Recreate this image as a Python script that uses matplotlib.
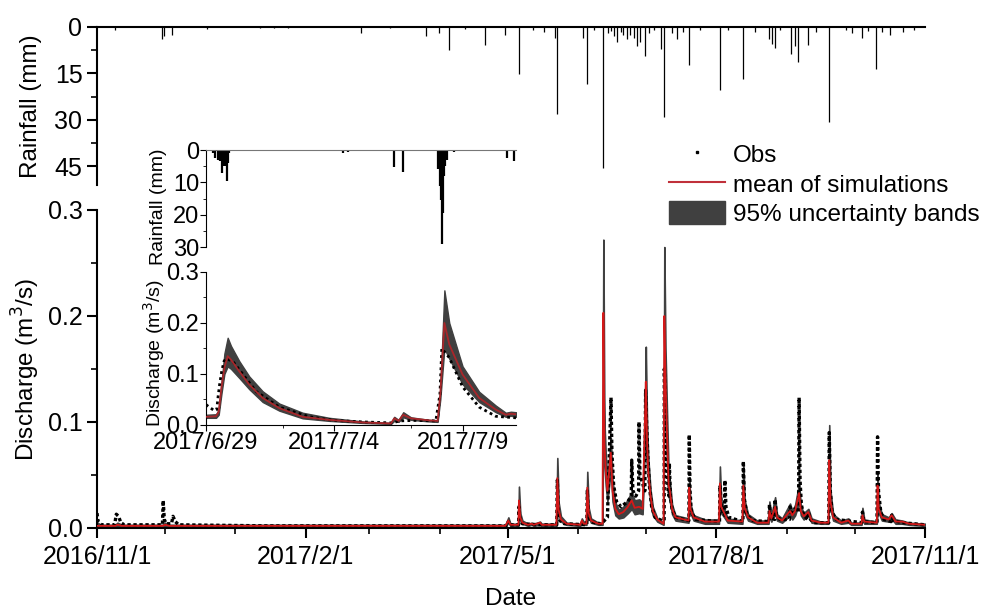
import matplotlib
matplotlib.use('Agg')
import matplotlib.pyplot as plt
import matplotlib.dates as mdates
import pandas as pd
from matplotlib.lines import Line2D
from matplotlib.patches import Patch
from matplotlib.ticker import MultipleLocator, FuncFormatter, FixedLocator, NullLocator

plt.rcParams['font.family'] = ['Liberation Sans', 'DejaVu Sans']

# ---------------- main period: rainfall (mm) ----------------
rainTime = ['2016-11-08 19:00', '2016-11-29 12:00', '2016-11-30 14:00', '2016-12-04 05:00', '2016-12-19 10:00',
            '2017-01-12', '2017-01-18', '2017-01-24', '2017-02-25 05:00', '2017-03-10', '2017-03-26 05:00',
            '2017-03-31 17:00', '2017-04-05 05:00', '2017-04-12', '2017-04-20 22:00', '2017-04-29 17:00',
            '2017-05-05 20:00', '2017-05-12', '2017-05-17', '2017-05-21 22:00', '2017-05-22 18:00',
            '2017-06-03 07:00', '2017-06-05 00:00', '2017-06-08', '2017-06-12 00:00', '2017-06-14 07:00',
            '2017-06-15 12:00', '2017-06-17 02:00', '2017-06-18 06:00', '2017-06-19 22:00', '2017-06-21 02:00',
            '2017-06-22 14:00', '2017-06-24 00:00', '2017-06-25 22:00', '2017-06-27 00:00', '2017-06-28 05:00',
            '2017-06-30 10:00', '2017-07-02 07:00', '2017-07-04 12:00', '2017-07-07 19:00', '2017-07-08 22:00',
            '2017-07-12 06:00', '2017-07-14 17:00', '2017-07-17 12:00', '2017-07-19 22:00', '2017-07-25',
            '2017-08-02 10:00', '2017-08-06', '2017-08-12 19:00', '2017-08-18', '2017-08-24 06:00',
            '2017-08-25 12:00', '2017-08-26 18:00', '2017-08-29', '2017-09-03 00:00', '2017-09-04 16:00',
            '2017-09-06 02:00', '2017-09-10 05:00', '2017-09-14', '2017-09-19 14:00', '2017-09-27 07:00',
            '2017-09-30', '2017-10-04 05:00', '2017-10-07', '2017-10-10 14:00', '2017-10-13',
            '2017-10-16 17:00', '2017-10-22 05:00', '2017-10-27']
rainMm   = [1.0, 4.0, 3.0, 2.6, 0.5,
            0.3, 0.4, 0.3, 2.0, 0.4, 3.0,
            2.0, 7.5, 0.5, 5.7, 2.6,
            15.2, 1.0, 1.5, 3.5, 28.0,
            3.6, 18.3, 1.0, 45.5, 2.0,
            1.2, 3.0, 5.0, 1.5, 2.5,
            4.0, 2.5, 3.5, 6.0, 4.7,
            9.3, 2.0, 1.0, 7.2, 29.0,
            2.0, 4.0, 1.5, 12.4, 1.0,
            20.4, 1.0, 16.8, 1.5, 4.0,
            5.5, 6.7, 1.0, 8.8, 6.2,
            11.2, 5.7, 1.5, 30.8, 1.0,
            2.0, 3.4, 1.2, 13.4, 1.5,
            2.5, 1.5, 1.0]

# ---------------- main period: simulations (m3/s) ----------------
simTime = ['2016-11-01 00:00', '2016-11-03', '2016-11-09', '2016-11-10', '2016-11-12', '2016-11-30', '2016-12-01',
           '2016-12-03', '2017-04-30', '2017-05-01 08:00', '2017-05-02 06:00', '2017-05-05 18:00',
           '2017-05-06 00:00', '2017-05-06 14:00', '2017-05-07 12:00', '2017-05-10', '2017-05-11 14:00',
           '2017-05-12 12:00', '2017-05-15 07:00', '2017-05-16', '2017-05-22 12:00', '2017-05-22 22:00',
           '2017-05-23 12:00', '2017-05-24 12:00', '2017-05-27', '2017-06-02', '2017-06-02 17:00',
           '2017-06-03 12:00', '2017-06-04 18:00', '2017-06-05 03:00', '2017-06-05 18:00', '2017-06-06 18:00',
           '2017-06-10', '2017-06-11 20:00', '2017-06-12 05:00', '2017-06-12 16:00', '2017-06-13 06:00',
           '2017-06-14 00:00', '2017-06-15 12:00', '2017-06-16 06:00', '2017-06-17 12:00', '2017-06-19',
           '2017-06-21', '2017-06-23', '2017-06-24 17:00', '2017-06-26', '2017-06-28', '2017-06-29 12:00',
           '2017-06-30 16:00', '2017-06-30 22:00', '2017-07-01 12:00', '2017-07-02', '2017-07-03',
           '2017-07-04', '2017-07-06', '2017-07-08 18:00', '2017-07-09 02:00', '2017-07-09 14:00',
           '2017-07-10 06:00', '2017-07-11 00:00', '2017-07-11 12:00', '2017-07-12 12:00', '2017-07-14',
           '2017-07-19 18:00', '2017-07-20 02:00', '2017-07-20 14:00', '2017-07-22', '2017-07-27',
           '2017-08-02 04:00', '2017-08-02 14:00', '2017-08-03 04:00', '2017-08-04 12:00', '2017-08-06',
           '2017-08-12 12:00', '2017-08-12 22:00', '2017-08-13 12:00', '2017-08-15', '2017-08-19',
           '2017-08-24 00:00', '2017-08-24 10:00', '2017-08-25 06:00', '2017-08-26 22:00', '2017-08-27 18:00',
           '2017-08-30', '2017-09-02 12:00', '2017-09-03 12:00', '2017-09-04 18:00', '2017-09-06 12:00',
           '2017-09-07 06:00', '2017-09-08 12:00', '2017-09-10 14:00', '2017-09-12', '2017-09-16',
           '2017-09-19 10:00', '2017-09-19 19:00', '2017-09-20 08:00', '2017-09-21 12:00', '2017-09-25',
           '2017-09-28 05:00', '2017-09-29 12:00', '2017-10-04 00:00', '2017-10-04 10:00', '2017-10-05 06:00',
           '2017-10-10 18:00', '2017-10-11 02:00', '2017-10-11 14:00', '2017-10-13', '2017-10-16',
           '2017-10-17 07:00', '2017-10-19', '2017-10-22', '2017-10-25', '2017-11-01']
simLow  = [.001, .001, .001, .002, .001, .001, .002,
           .001, .001, .005, .002, .002,
           .018, .007, .004, .002, .003,
           .002, .003, .002, .002, .033,
           .012, .006, .003, .002, .005,
           .003, .003, .028, .010, .005,
           .003, .003, .150, .060, .040,
           .025, .055, .025, .012, .009,
           .010, .014, .018, .013, .014, .013,
           .090, .115, .070, .045, .022,
           .012, .006, .003, .150, .110,
           .060, .030, .025, .013, .007,
           .005, .030, .014, .007, .004,
           .004, .030, .014, .010, .005,
           .004, .030, .014, .007, .004,
           .004, .012, .006, .014, .007,
           .005, .012, .008, .012, .024,
           .012, .008, .012, .005, .004,
           .004, .045, .018, .007, .004,
           .005, .003, .003, .009, .004,
           .004, .030, .014, .007, .006,
           .009, .004, .004, .003, .002]
simMean = [.002, .002, .002, .003, .002, .002, .003,
           .002, .002, .007, .003, .003,
           .026, .010, .005, .003, .004,
           .003, .005, .003, .003, .047,
           .017, .008, .004, .003, .007,
           .004, .004, .038, .014, .007,
           .004, .004, .203, .080, .055,
           .035, .071, .035, .018, .013,
           .015, .020, .026, .019, .020, .018,
           .112, .138, .080, .053, .030,
           .016, .008, .004, .200, .140,
           .090, .040, .035, .018, .010,
           .007, .038, .018, .010, .006,
           .006, .042, .020, .014, .007,
           .006, .040, .019, .010, .005,
           .005, .016, .009, .020, .010,
           .007, .016, .012, .016, .033,
           .016, .011, .015, .007, .005,
           .005, .064, .025, .010, .005,
           .007, .004, .004, .012, .006,
           .005, .040, .018, .010, .008,
           .012, .006, .006, .004, .003]
simHigh = [.005, .003, .003, .005, .003, .003, .005,
           .003, .003, .010, .004, .004,
           .039, .014, .007, .004, .005,
           .004, .006, .004, .004, .066,
           .024, .011, .005, .004, .009,
           .006, .006, .053, .019, .009,
           .005, .005, .272, .100, .070,
           .045, .085, .045, .024, .017,
           .020, .027, .034, .026, .027, .024,
           .130, .171, .095, .066, .036,
           .020, .009, .005, .265, .170,
           .110, .050, .045, .022, .012,
           .009, .048, .023, .012, .008,
           .008, .058, .026, .018, .009,
           .007, .062, .026, .013, .007,
           .007, .025, .012, .029, .013,
           .009, .023, .016, .022, .042,
           .021, .014, .018, .009, .006,
           .006, .097, .035, .013, .007,
           .009, .005, .005, .019, .008,
           .006, .050, .024, .013, .010,
           .014, .008, .007, .005, .004]

# ---------------- main period: observations (m3/s) ----------------
obsTime = ['2016-11-01 00:00', '2016-11-01 12:00', '2016-11-03', '2016-11-08 18:00', '2016-11-09 12:00',
           '2016-11-10 12:00', '2016-11-11 12:00', '2016-11-13', '2016-11-29 20:00', '2016-11-30 04:00',
           '2016-11-30 16:00', '2016-12-01 12:00', '2016-12-03 20:00', '2016-12-04 12:00', '2016-12-05 12:00',
           '2016-12-07', '2017-01-15', '2017-04-30', '2017-05-01 04:00', '2017-05-01 08:00',
           '2017-05-02', '2017-05-05 20:00', '2017-05-06 00:00', '2017-05-06 12:00', '2017-05-07 12:00',
           '2017-05-15', '2017-05-22 16:00', '2017-05-22 22:00', '2017-05-23 08:00', '2017-05-24',
           '2017-05-26', '2017-06-04 22:00', '2017-06-05 03:00', '2017-06-05 14:00', '2017-06-06 12:00',
           '2017-06-11', '2017-06-12 05:00', '2017-06-14 00:00', '2017-06-15 14:00', '2017-06-16 00:00',
           '2017-06-16 18:00', '2017-06-18', '2017-06-20', '2017-06-23', '2017-06-24 12:00',
           '2017-06-24 17:00', '2017-06-25 06:00', '2017-06-26 12:00', '2017-06-27 18:00', '2017-06-27 22:00',
           '2017-06-28 08:00', '2017-06-30 12:00', '2017-06-30 20:00', '2017-07-01 06:00', '2017-07-01 18:00',
           '2017-07-02 12:00', '2017-07-03 12:00', '2017-07-05', '2017-07-08', '2017-07-09 00:00',
           '2017-07-09 02:00', '2017-07-09 12:00', '2017-07-10', '2017-07-10 18:00', '2017-07-11 04:00',
           '2017-07-11 07:00', '2017-07-11 18:00', '2017-07-12 12:00', '2017-07-14', '2017-07-19 22:00',
           '2017-07-20 02:00', '2017-07-20 10:00', '2017-07-21', '2017-07-23', '2017-08-02 10:00',
           '2017-08-02 14:00', '2017-08-03 06:00', '2017-08-04 14:00', '2017-08-04 19:00', '2017-08-05 06:00',
           '2017-08-06 12:00', '2017-08-12 18:00', '2017-08-12 22:00', '2017-08-13 08:00', '2017-08-14 12:00',
           '2017-08-17', '2017-08-24 06:00', '2017-08-24 10:00', '2017-08-25', '2017-08-26 18:00',
           '2017-08-26 22:00', '2017-08-27 12:00', '2017-08-29', '2017-09-02 06:00', '2017-09-02 12:00',
           '2017-09-03 12:00', '2017-09-04 12:00', '2017-09-06 06:00', '2017-09-06 12:00', '2017-09-06 22:00',
           '2017-09-07 12:00', '2017-09-08 12:00', '2017-09-10 08:00', '2017-09-10 14:00', '2017-09-11 12:00',
           '2017-09-13', '2017-09-19 14:00', '2017-09-19 19:00', '2017-09-20 06:00', '2017-09-21',
           '2017-09-23', '2017-10-04 04:00', '2017-10-04 10:00', '2017-10-05', '2017-10-10 20:00',
           '2017-10-11 02:00', '2017-10-11 12:00', '2017-10-12 12:00', '2017-10-14', '2017-10-17 02:00',
           '2017-10-17 07:00', '2017-10-18', '2017-10-22', '2017-11-01']
obsQ    = [.014, .006, .003, .003, .013,
           .011, .005, .003, .003, .026,
           .008, .004, .004, .011, .006,
           .003, .002, .002, .002, .006,
           .003, .003, .020, .008, .004,
           .003, .003, .045, .015, .007,
           .004, .003, .035, .012, .006,
           .004, .006, .010, .123, .070,
           .040, .025, .020, .025, .030,
           .064, .035, .030, .035, .100,
           .050, .035, .130, .100, .070,
           .040, .020, .010, .007, .007,
           .150, .120, .070, .035, .030,
           .061, .030, .018, .010, .007,
           .088, .035, .015, .008, .006,
           .040, .018, .012, .045, .020,
           .010, .006, .063, .028, .012,
           .007, .006, .022, .010, .008,
           .027, .012, .008, .008, .020,
           .014, .018, .015, .123, .045,
           .022, .012, .008, .015, .008,
           .005, .005, .090, .035, .015,
           .008, .005, .015, .006, .005,
           .086, .035, .015, .008, .006,
           .012, .007, .005, .003]

# ---------------- inset: 2017/6/29 - 2017/7/11 ----------------
insetRainTime = ['2017-06-29 06:15', '2017-06-29 08:45', '2017-06-29 10:55', '2017-06-29 13:05', '2017-06-29 15:00',
                 '2017-06-29 16:30', '2017-06-29 18:05', '2017-06-29 19:20', '2017-06-29 20:35', '2017-06-29 21:50',
                 '2017-07-04 07:50', '2017-07-04 12:30', '2017-07-06 07:30', '2017-07-06 16:30', '2017-07-07 11:30',
                 '2017-07-08 01:30', '2017-07-08 02:50', '2017-07-08 03:50', '2017-07-08 04:35', '2017-07-08 05:30',
                 '2017-07-08 06:30', '2017-07-08 07:40', '2017-07-08 09:00', '2017-07-08 16:20', '2017-07-09 00:00',
                 '2017-07-10 18:00', '2017-07-11 00:15']
insetRainMm   = [1.0, 2.4, 3.0, 3.5, 7.0,
                 5.0, 5.0, 9.7, 4.0, 1.0,
                 1.0, 0.6, 5.2, 6.9, 0.4,
                 6.0, 11.0, 15.4, 29.0, 19.6,
                 8.0, 5.0, 3.0, 0.5, 0.3,
                 2.4, 3.4]

insetSimTime = ['2017-06-29 00:00', '2017-06-29 09:20', '2017-06-29 11:50', '2017-06-29 14:20', '2017-06-29 17:10',
                '2017-06-29 20:15', '2017-06-29 23:20', '2017-06-30 07:10', '2017-06-30 16:30', '2017-07-01 05:00',
                '2017-07-01 20:35', '2017-07-02 18:25', '2017-07-03 19:20', '2017-07-05 02:30', '2017-07-06 05:00',
                '2017-07-06 08:05', '2017-07-06 12:10', '2017-07-06 16:30', '2017-07-06 23:45', '2017-07-07 16:50',
                '2017-07-08 00:40', '2017-07-08 03:10', '2017-07-08 07:00', '2017-07-08 11:35', '2017-07-09 00:00',
                '2017-07-09 15:35', '2017-07-10 07:10', '2017-07-10 16:30', '2017-07-10 21:10', '2017-07-11 02:00']
insetSimLow  = [.014, .014, .020, .060, .100, .115, .110, .092, .070, .045,
                .028, .013, .008, .004, .002, .008, .006, .015, .010, .007,
                .006, .050, .150, .130, .080, .045, .025, .016, .018, .016]
insetSimMean = [.016, .017, .026, .072, .112, .135, .128, .105, .079, .053,
                .033, .016, .010, .005, .003, .013, .008, .020, .013, .009,
                .008, .060, .200, .158, .099, .053, .030, .020, .022, .021]
insetSimHigh = [.020, .021, .030, .080, .140, .171, .155, .125, .095, .066,
                .042, .024, .014, .007, .004, .016, .010, .025, .015, .010,
                .009, .070, .264, .200, .115, .065, .038, .024, .026, .025]

insetObsTime = ['2017-06-29 00:00', '2017-06-29 03:00', '2017-06-29 07:50', '2017-06-29 10:00', '2017-06-29 11:15',
                '2017-06-29 12:45', '2017-06-29 14:40', '2017-06-29 16:50', '2017-06-29 18:40', '2017-06-30 01:00',
                '2017-06-30 10:15', '2017-06-30 22:45', '2017-07-01 20:35', '2017-07-03 00:40', '2017-07-04 00:00',
                '2017-07-05 02:30', '2017-07-06 06:30', '2017-07-06 12:50', '2017-07-07 04:20', '2017-07-07 23:00',
                '2017-07-08 02:50', '2017-07-08 04:35', '2017-07-08 11:35', '2017-07-09 00:00', '2017-07-09 15:35',
                '2017-07-10 07:10', '2017-07-11 02:00']
insetObsQ    = [.040, .035, .028, .030, .055, .080, .105, .125, .130, .125,
                .100, .066, .035, .016, .009, .006, .004, .008, .009, .008,
                .060, .150, .132, .075, .035, .017, .014]

bandColor = '#404040'
redMain   = '#d41818'
redInset  = '#a8262a'


def dateLabel(x, pos=None):
  d = mdates.num2date(x)
  return '%d/%d/%d' % (d.year, d.month, d.day)


def toDates(s):
  return pd.to_datetime(s, format='ISO8601')


fig = plt.figure(figsize=(9.83, 6.12), dpi=100)

# ---- main rainfall
axR = fig.add_axes([0.0987, 0.6977, 0.8423, 0.2582])
axR.vlines(toDates(rainTime), 0, rainMm, color='k', lw=0.9)
axR.set_ylim(51, 0)
axR.set_xlim(toDates('2016-11-01'), toDates('2017-11-01'))
axR.yaxis.set_major_locator(FixedLocator([0, 15, 30, 45]))
axR.yaxis.set_minor_locator(FixedLocator([7.5, 22.5, 37.5]))
axR.xaxis.set_major_locator(NullLocator())
axR.xaxis.set_minor_locator(NullLocator())
for s in ['right', 'bottom']:
  axR.spines[s].set_visible(False)
for s in ['left', 'top']:
  axR.spines[s].set_linewidth(1.5)
axR.tick_params(axis='y', which='major', direction='out', length=7, width=1.5, labelsize=18)
axR.tick_params(axis='y', which='minor', direction='out', length=4, width=1.2)
axR.set_ylabel('Rainfall (mm)', fontsize=17.5)
axR.yaxis.set_label_coords(-0.066, 0.5)
axR.patch.set_alpha(0)

# ---- main discharge
axQ = fig.add_axes([0.0987, 0.1373, 0.8423, 0.5196])
axQ.fill_between(toDates(simTime), simLow, simHigh, color=bandColor, lw=1.2, edgecolor=bandColor, zorder=1)
axQ.plot(toDates(obsTime), obsQ, color='k', lw=2.4, ls=(0, (1, 0.8)), zorder=2)
axQ.plot(toDates(simTime), simMean, color=redMain, lw=1.3, zorder=3)
axQ.set_xlim(toDates('2016-11-01'), toDates('2017-11-01'))
axQ.set_ylim(0, 0.3)
axQ.yaxis.set_major_locator(MultipleLocator(0.1))
axQ.yaxis.set_minor_locator(MultipleLocator(0.05))
axQ.yaxis.set_major_formatter(FuncFormatter(lambda v, p: '%.1f' % v))
axQ.xaxis.set_major_locator(mdates.MonthLocator(bymonth=[2, 5, 8, 11], bymonthday=1))
axQ.xaxis.set_minor_locator(mdates.MonthLocator())
axQ.xaxis.set_major_formatter(FuncFormatter(dateLabel))
for s in ['right', 'top']:
  axQ.spines[s].set_visible(False)
for s in ['left', 'bottom']:
  axQ.spines[s].set_linewidth(1.5)
axQ.tick_params(which='major', direction='out', length=7, width=1.5, labelsize=18)
axQ.tick_params(which='minor', direction='out', length=4, width=1.2)
axQ.tick_params(axis='x', which='major', pad=5)
axQ.set_ylabel('Discharge (m$^3$/s)', fontsize=17.5)
axQ.yaxis.set_label_coords(-0.066, 0.5)
axQ.set_xlabel('Date', fontsize=17.5, labelpad=14)
axQ.patch.set_alpha(0)

# ---- legend
handles = [Line2D([], [], marker='s', ls='none', color='k', markersize=2),
           Line2D([], [], color='#c0303a', lw=1.5),
           Patch(facecolor=bandColor, edgecolor=bandColor)]
fig.legend(handles, ['Obs', 'mean of simulations', '95% uncertainty bands'],
           loc='upper left', bbox_to_anchor=(0.668, 0.787), frameon=False, fontsize=17.5,
           handlelength=2.3, handleheight=1.1, handletextpad=0.35, labelspacing=0.17, borderpad=0)

# ---- inset rainfall
iaR = fig.add_axes([0.2096, 0.5964, 0.3153, 0.1585])
iaR.vlines(toDates(insetRainTime), 0, insetRainMm, color='k', lw=1.6)
iaR.set_ylim(30, 0)
iaR.set_xlim(toDates('2017-06-29 00:00'), toDates('2017-07-11 02:00'))
iaR.yaxis.set_major_locator(MultipleLocator(10))
iaR.yaxis.set_minor_locator(MultipleLocator(5))
iaR.xaxis.set_major_locator(NullLocator())
iaR.xaxis.set_minor_locator(NullLocator())
for s in ['right', 'bottom']:
  iaR.spines[s].set_visible(False)
iaR.spines['top'].set_color('#777777')
iaR.tick_params(axis='y', which='major', direction='out', length=4, labelsize=17, pad=1)
iaR.tick_params(axis='y', which='minor', direction='out', length=2.5)
iaR.set_ylabel('Rainfall (mm)', fontsize=14)
iaR.yaxis.set_label_coords(-0.125, 0.41)
iaR.patch.set_alpha(0)

# ---- inset discharge
iaQ = fig.add_axes([0.2096, 0.3056, 0.3153, 0.25])
iaQ.fill_between(toDates(insetSimTime), insetSimLow, insetSimHigh, color=bandColor, lw=1.0, edgecolor=bandColor, zorder=1)
iaQ.plot(toDates(insetObsTime), insetObsQ, color='k', lw=2.0, ls=(0, (1, 1.2)), zorder=2)
iaQ.plot(toDates(insetSimTime), insetSimMean, color=redInset, lw=1.3, zorder=3)
iaQ.set_xlim(toDates('2017-06-29 00:00'), toDates('2017-07-11 02:00'))
iaQ.set_ylim(0, 0.3)
iaQ.yaxis.set_major_locator(MultipleLocator(0.1))
iaQ.yaxis.set_minor_locator(MultipleLocator(0.05))
iaQ.yaxis.set_major_formatter(FuncFormatter(lambda v, p: '%.1f' % v))
iaQ.xaxis.set_major_locator(FixedLocator(mdates.date2num(toDates(['2017-06-29', '2017-07-04', '2017-07-09']))))
iaQ.xaxis.set_minor_locator(FixedLocator(mdates.date2num(toDates(['2017-07-02', '2017-07-07']))))
iaQ.xaxis.set_major_formatter(FuncFormatter(dateLabel))
for s in ['right', 'top']:
  iaQ.spines[s].set_visible(False)
iaQ.tick_params(which='major', direction='out', length=4, labelsize=17, pad=1)
iaQ.tick_params(which='minor', direction='out', length=2.5)
iaQ.set_ylabel('Discharge (m$^3$/s)', fontsize=14)
iaQ.yaxis.set_label_coords(-0.125, 0.47)
iaQ.patch.set_alpha(0)

fig.savefig('out.png', dpi=100)
